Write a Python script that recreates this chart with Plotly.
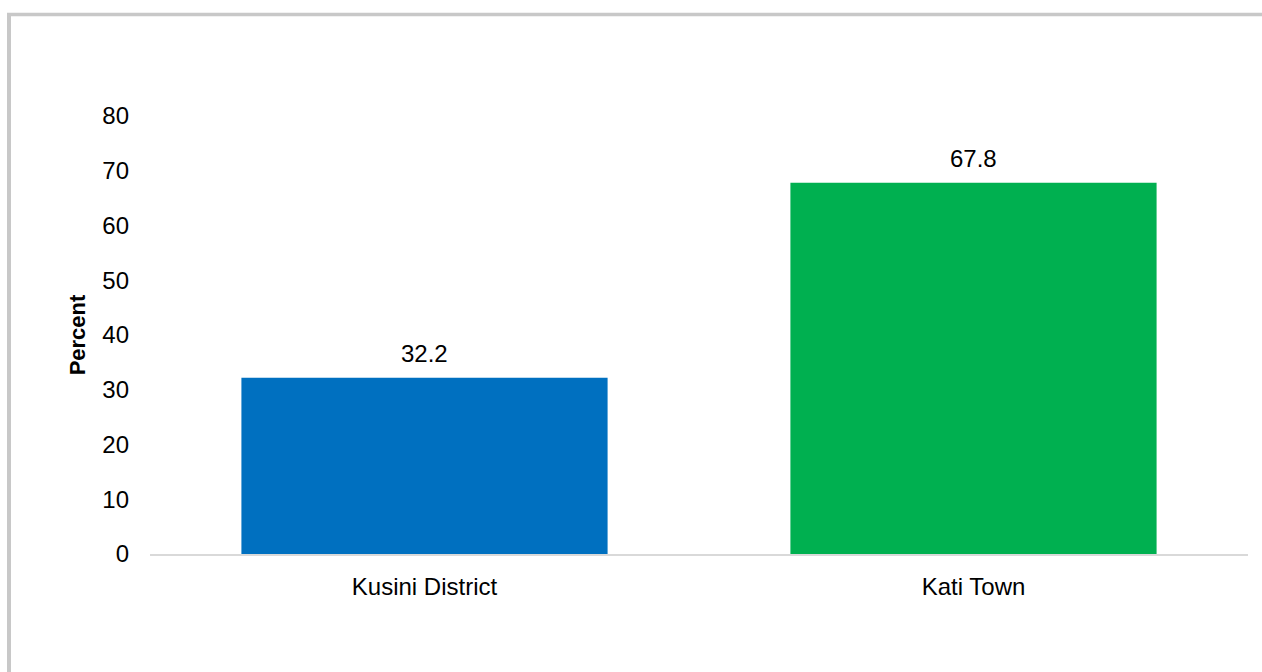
import plotly.graph_objects as go

# Share of population by area (percent)
categories = ["Kusini District", "Kati Town"]
values = [32.2, 67.8]
bar_colors = ["#0070C0", "#00B050"]
y_ticks = [0, 10, 20, 30, 40, 50, 60, 70, 80]

FONT = "Liberation Sans Narrow, Arial Narrow, Liberation Sans, Arial, sans-serif"

W, H = 1262, 672
L, R, T, B = 150, 14, 116, 118
plot_w = W - L - R
plot_h = H - T - B

fig = go.Figure(
    go.Bar(
        x=categories,
        y=values,
        marker=dict(color=bar_colors, line=dict(width=0)),
        width=0.667,
        hoverinfo="x+y",
    )
)

# value labels above each bar
for cat, val in zip(categories, values):
    fig.add_annotation(
        x=cat, y=val, text=f"{val:.1f}", showarrow=False,
        yanchor="bottom", yshift=9,
        font=dict(family=FONT, size=24, color="#000000"),
    )

# outer frame: left and top border lines
def px_x(p):
    return (p - L) / plot_w

def px_y(p):
    return (H - B - p) / plot_h

fig.add_shape(type="line", xref="paper", yref="paper",
              x0=px_x(9), x1=px_x(9), y0=px_y(13), y1=px_y(700),
              line=dict(color="#C8C8C8", width=4))
fig.add_shape(type="line", xref="paper", yref="paper",
              x0=px_x(7), x1=px_x(1300), y0=px_y(14.5), y1=px_y(14.5),
              line=dict(color="#C8C8C8", width=3.5))

fig.update_layout(
    width=W, height=H,
    margin=dict(l=L, r=R, t=T, b=B, pad=0),
    paper_bgcolor="white", plot_bgcolor="white",
    showlegend=False,
    font=dict(family=FONT, size=24, color="#000000"),
    xaxis=dict(
        showline=True, linecolor="#D9D9D9", linewidth=2,
        showgrid=False, ticks="", ticklabelstandoff=10,
        tickfont=dict(family=FONT, size=24, color="#000000"),
    ),
    yaxis=dict(
        range=[0, 80], tickvals=y_ticks, showgrid=False, zeroline=False,
        showline=False, ticks="", ticklabelstandoff=20,
        tickfont=dict(family=FONT, size=24, color="#000000"),
        title=dict(text="<b>Percent</b>", standoff=10,
                   font=dict(family=FONT, size=22, color="#000000")),
    ),
)

fig.write_html("out.html")
